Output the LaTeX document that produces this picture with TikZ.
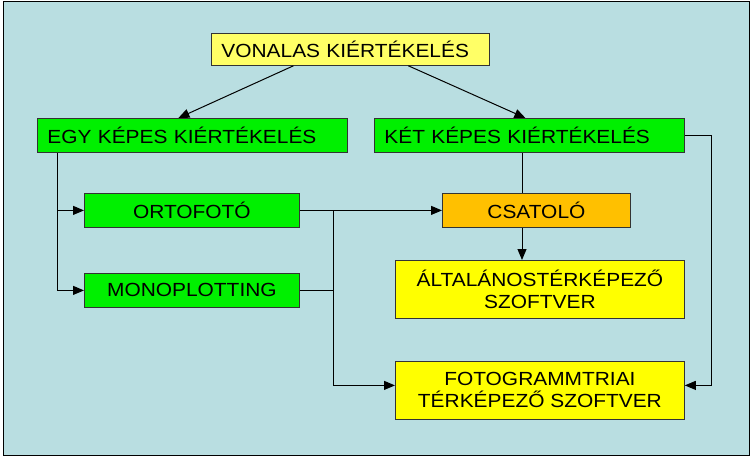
\documentclass[tikz,border=0pt]{standalone}
\usepackage{fontspec}
\setmainfont{Liberation Sans}[FakeStretch=1.1]
\usetikzlibrary{arrows.meta}
\definecolor{bgblue}{HTML}{B9DEE1}
\definecolor{boxgreen}{HTML}{00F000}
\definecolor{boxorange}{HTML}{FFC000}
\definecolor{boxyellow}{HTML}{FFFF00}
\definecolor{paleyellow}{HTML}{FFFF66}

\begin{document}
\begin{tikzpicture}[x=1pt, y=-1pt, font=\fontsize{19}{22}\selectfont]
    % Styles
    \tikzset{box/.style={draw=black!80, line width=0.8pt, anchor=north west, inner ysep=0pt, inner xsep=0pt, align=center},
             leftbox/.style={box, inner xsep=10pt, align=left},
             link/.style={line width=1pt, -{Triangle[length=11pt,width=9pt]}}}

    % Frame
    \useasboundingbox (0,0) rectangle (753,458);
    \draw[fill=bgblue, line width=1pt] (3,1.5) rectangle (749,455);

    % Top level
    \node[leftbox, fill=paleyellow, text width=258pt, minimum height=32pt] (vonalas) at (211,33) {VONALAS KIÉRTÉKELÉS};

    % Level 1
    \node[leftbox, fill=boxgreen, text width=290pt, minimum height=34pt] (egy) at (37,118) {EGY KÉPES KIÉRTÉKELÉS};
    \node[leftbox, fill=boxgreen, text width=290pt, minimum height=34pt] (ket) at (374,118) {KÉT KÉPES KIÉRTÉKELÉS};

    % Level 2 - left branch
    \node[box, fill=boxgreen, minimum width=215pt, minimum height=34pt] (ortofoto) at (84,193) {ORTOFOTÓ};
    \node[box, fill=boxgreen, minimum width=215pt, minimum height=34pt] (monoplotting) at (84,273) {MONOPLOTTING};

    % Level 2 - right branch
    \node[box, fill=boxorange, minimum width=188pt, minimum height=34pt] (csatolo) at (442,193) {CSATOLÓ};
    \node[box, fill=boxyellow, minimum width=289pt, minimum height=58pt] (altalanos) at (395,260) {ÁLTALÁNOSTÉRKÉPEZŐ\\SZOFTVER};
    \node[box, fill=boxyellow, minimum width=289pt, minimum height=58pt] (fotogramm) at (395,361) {FOTOGRAMMTRIAI\\TÉRKÉPEZŐ SZOFTVER};

    % Bus lines
    \coordinate (lbus) at (57,0);
    \coordinate (mbus) at (333,0);
    \coordinate (cbus) at (522,0);
    \coordinate (rbus) at (711,0);

    % Connectors from the top
    \draw[link] ([xshift=-57pt]vonalas.south) -- ([xshift=-14pt]egy.north);
    \draw[link] ([xshift=58pt]vonalas.south) -- ([xshift=-4pt]ket.north);

    % Left branch
    \draw[link] (lbus |- egy.south) |- (ortofoto.west);
    \draw[link] (lbus |- egy.south) |- (monoplotting.west);
    \draw[link] (ortofoto.east) -- (csatolo.west);
    \draw[link] (mbus |- ortofoto.east) |- ([yshift=5pt]fotogramm.west);
    \draw (monoplotting.east) -- (mbus |- monoplotting.east);

    % Right branch
    \draw (cbus |- ket.south) -- (cbus |- csatolo.north);
    \draw[link] (cbus |- csatolo.south) -- (cbus |- altalanos.north);
    \draw[link] (ket.east) -- (rbus |- ket.east) |- ([yshift=5pt]fotogramm.east);
\end{tikzpicture}
\end{document}
